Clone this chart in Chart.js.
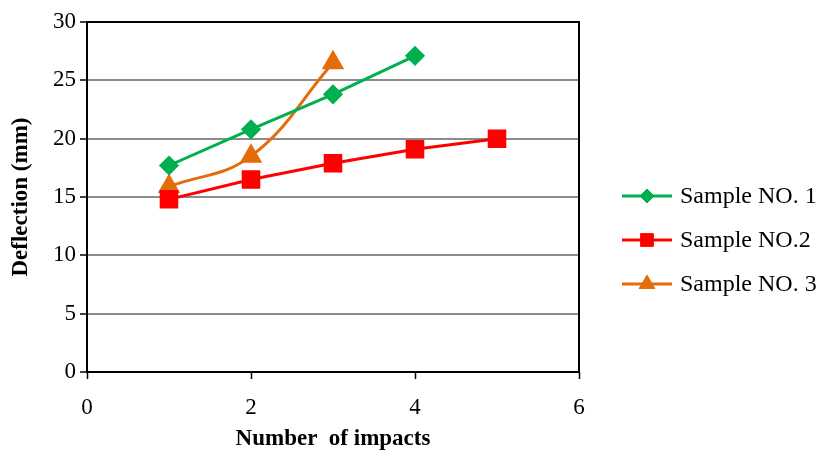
<!DOCTYPE html>
<html>
<head>
<meta charset="utf-8">
<script src="https://cdn.jsdelivr.net/npm/chart.js@4.4.1/dist/chart.umd.min.js"></script>
<style>
  html, body { margin: 0; padding: 0; background: #fff; }
  #wrap { width: 819px; height: 451px; }
</style>
</head>
<body>
<div id="wrap"><canvas id="c" width="819" height="451"></canvas></div>
<script>
// Deflection (mm) against number of impacts for three samples
const impacts1 = [1, 2, 3, 4];
const deflection1 = [17.7, 20.8, 23.8, 27.1];

const impacts2 = [1, 2, 3, 4, 5];
const deflection2 = [14.8, 16.5, 17.9, 19.1, 20.0];

const impacts3 = [1, 2, 3];
const deflection3 = [15.9, 18.5, 26.5];

const seriesNames = ['Sample NO. 1', 'Sample NO.2', 'Sample NO. 3'];
const xTicks = [0, 2, 4, 6];
const yTicks = [0, 5, 10, 15, 20, 25, 30];

const FONT = '"Liberation Serif", "Times New Roman", serif';

function toPoints(xs, ys) {
  return xs.map((x, i) => ({ x: x, y: ys[i] }));
}

// Black frame around the plot area
const frame = {
  id: 'frame',
  afterDatasetsDraw(chart) {
    const { ctx, chartArea: a } = chart;
    ctx.save();
    ctx.strokeStyle = '#000';
    ctx.lineWidth = 2;
    ctx.strokeRect(a.left, a.top, a.right - a.left, a.bottom - a.top);
    ctx.restore();
  }
};

// Legend at the right: line sample with marker, then series name
const sideLegend = {
  id: 'sideLegend',
  afterDraw(chart) {
    const { ctx } = chart;
    const x0 = 622, x1 = 672, tx = 680;
    const ys = [196, 240, 284];
    chart.data.datasets.forEach((ds, i) => {
      const y = ys[i];
      ctx.save();
      ctx.strokeStyle = ds.borderColor;
      ctx.lineWidth = 3;
      ctx.beginPath();
      ctx.moveTo(x0, y);
      ctx.lineTo(x1, y);
      ctx.stroke();
      ctx.fillStyle = ds.pointBackgroundColor;
      ctx.strokeStyle = ds.pointBorderColor;
      ctx.lineWidth = 1;
      Chart.helpers.drawPoint(ctx, { pointStyle: ds.pointStyle, radius: ds.legendRadius, borderWidth: 1 }, (x0 + x1) / 2, y);
      ctx.fillStyle = '#000';
      ctx.font = '24px ' + FONT;
      ctx.textBaseline = 'middle';
      ctx.textAlign = 'left';
      ctx.fillText(ds.label, tx, y + 1);
      ctx.restore();
    });
  }
};

new Chart(document.getElementById('c'), {
  type: 'scatter',
  data: {
    datasets: [
      {
        label: seriesNames[0],
        data: toPoints(impacts1, deflection1),
        showLine: true,
        borderColor: '#00B050',
        backgroundColor: '#00B050',
        pointBackgroundColor: '#00B050',
        pointBorderColor: '#00B050',
        borderWidth: 3,
        pointStyle: 'rectRot',
        pointRadius: 8,
        legendRadius: 7,
        tension: 0
      },
      {
        label: seriesNames[1],
        data: toPoints(impacts2, deflection2),
        showLine: true,
        borderColor: '#FF0000',
        backgroundColor: '#FF0000',
        pointBackgroundColor: '#FF0000',
        pointBorderColor: '#FF0000',
        borderWidth: 3,
        pointStyle: 'rect',
        pointRadius: 11,
        legendRadius: 9,
        tension: 0
      },
      {
        label: seriesNames[2],
        data: toPoints(impacts3, deflection3),
        showLine: true,
        borderColor: '#E46C0A',
        backgroundColor: '#E46C0A',
        pointBackgroundColor: '#E46C0A',
        pointBorderColor: '#E46C0A',
        borderWidth: 3,
        pointStyle: 'triangle',
        pointRadius: 10,
        legendRadius: 9,
        tension: 0.4
      }
    ]
  },
  options: {
    responsive: false,
    animation: false,
    events: [],
    layout: { padding: { left: 0, right: 240, top: 22, bottom: 0 } },
    plugins: {
      legend: { display: false },
      tooltip: { enabled: false }
    },
    scales: {
      x: {
        type: 'linear',
        min: 0,
        max: 6,
        afterBuildTicks(scale) { scale.ticks = xTicks.map(v => ({ value: v })); },
        afterFit(scale) { scale.height = 79; },
        border: { display: false },
        grid: {
          drawOnChartArea: false,
          drawTicks: true,
          tickLength: 7,
          tickColor: '#000',
          tickWidth: 1.5
        },
        ticks: {
          color: '#000',
          padding: 15,
          font: { family: FONT, size: 23 }
        },
        title: {
          display: true,
          text: 'Number  of impacts',
          color: '#000',
          font: { family: FONT, size: 23, weight: 'bold', lineHeight: 1 },
          padding: { top: 0, bottom: 0 }
        }
      },
      y: {
        type: 'linear',
        min: 0,
        max: 30,
        afterBuildTicks(scale) { scale.ticks = yTicks.map(v => ({ value: v })); },
        afterFit(scale) { scale.width = 87; },
        border: { display: false },
        grid: {
          color: '#8C8C8C',
          lineWidth: 2,
          drawTicks: true,
          tickLength: 7,
          tickColor: '#000',
          tickWidth: 1.5
        },
        ticks: {
          color: '#000',
          padding: 4,
          font: { family: FONT, size: 23 }
        },
        title: {
          display: true,
          text: 'Deflection (mm)',
          color: '#000',
          font: { family: FONT, size: 23, weight: 'bold', lineHeight: 1 },
          padding: { top: 10, bottom: 0 }
        }
      }
    }
  },
  plugins: [frame, sideLegend]
});
</script>
</body>
</html>
